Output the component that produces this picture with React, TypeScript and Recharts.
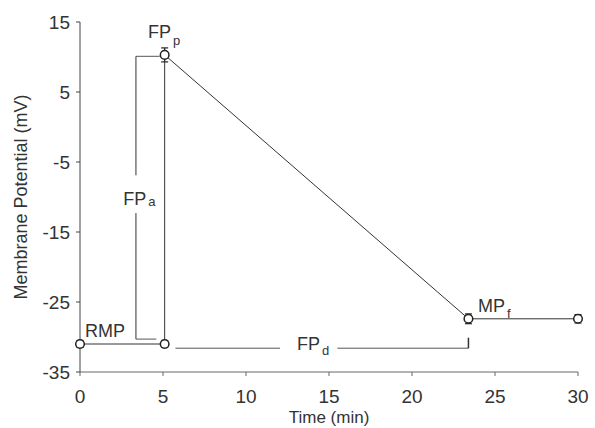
import React from 'react';
import { ComposedChart, Line, XAxis, YAxis, ErrorBar, ReferenceLine, ReferenceDot, Label } from 'recharts';

const times = [0, 5.1, 5.1, 23.4, 30];
const potentials = [-31, -31, 10.3, -27.4, -27.4];
const errors = [0.5, 0.5, 1.0, 0.7, 0.6];
const xTicks = [0, 5, 10, 15, 20, 25, 30];
const yTicks = [-35, -25, -15, -5, 5, 15];

const data = times.map((t, i) => ({ t, v: potentials[i], err: errors[i] }));

const ink = '#333';
const font = '"Liberation Sans", Arial, sans-serif';

// annotation labels: main text, subscript, left/baseline anchor in data coords
const notes = [
  { main: 'FP', sub: 'p', drop: 7, x: 4.1, y: 12.7 },
  { main: 'RMP', sub: '', drop: 0, x: 0.3, y: -30.0 },
  { main: 'FP', sub: 'a', drop: 1, x: 2.6, y: -11.1 },
  { main: 'FP', sub: 'd', drop: 5, x: 13.07, y: -31.86 },
  { main: 'MP', sub: 'f', drop: 6, x: 23.98, y: -26.43 },
];

const Note = (props: any) => {
  const { cx, cy, main, sub, drop } = props;
  return (
    <text x={cx} y={cy} textAnchor="start" fill={ink} fontSize={18} fontFamily={font}>
      <tspan>{main}</tspan>
      {sub && <tspan dx={2} dy={drop} fontSize={13} fill={ink}>{sub}</tspan>}
    </text>
  );
};

const Circle = (props: any) => {
  const { cx, cy } = props;
  return <circle cx={cx} cy={cy} r={4.3} fill="#fff" stroke="#222" strokeWidth={1.5} />;
};

export default function App() {
  return (
    <div style={{ position: 'absolute', left: 0, top: 0, background: '#fff' }}>
      <ComposedChart width={595} height={428} data={data} margin={{ top: 22, right: 17, bottom: 22, left: 40 }}>
        <XAxis
          dataKey="t"
          type="number"
          domain={[0, 30]}
          ticks={xTicks}
          stroke="#666"
          tick={{ fill: ink, fontSize: 19, fontFamily: font }}
          tickSize={4}
          tickMargin={14}
          height={34}
        >
          <Label value="Time (min)" position="insideBottom" offset={-17} fill={ink} fontSize={17} fontFamily={font} />
        </XAxis>
        <YAxis
          type="number"
          domain={[-35, 15]}
          ticks={yTicks}
          stroke="#444"
          tick={{ fill: ink, fontSize: 19, fontFamily: font }}
          tickSize={4}
          tickMargin={6}
          width={40}
        >
          <Label value="Membrane Potential (mV)" angle={-90} position="insideLeft" offset={-19} style={{ textAnchor: 'middle' }} fill={ink} fontSize={18} fontFamily={font} />
        </YAxis>

        {/* FPa bracket */}
        <ReferenceLine segment={[{ x: 3.37, y: 10.1 }, { x: 4.8, y: 10.1 }]} stroke="#555" />
        <ReferenceLine segment={[{ x: 3.37, y: 10.1 }, { x: 3.37, y: -6.9 }]} stroke="#333" />
        <ReferenceLine segment={[{ x: 3.37, y: -12.3 }, { x: 3.37, y: -30.3 }]} stroke="#333" />
        <ReferenceLine segment={[{ x: 3.37, y: -30.3 }, { x: 4.6, y: -30.3 }]} stroke="#555" />

        {/* FPd line */}
        <ReferenceLine segment={[{ x: 5.75, y: -31.6 }, { x: 12.05, y: -31.6 }]} stroke="#555" />
        <ReferenceLine segment={[{ x: 15.5, y: -31.6 }, { x: 23.4, y: -31.6 }]} stroke="#555" />
        <ReferenceLine segment={[{ x: 23.4, y: -31.6 }, { x: 23.4, y: -30.1 }]} stroke="#333" strokeWidth={1.5} />

        {notes.map((n, i) => (
          <ReferenceDot key={i} x={n.x} y={n.y} r={0} shape={(p: any) => <Note {...p} main={n.main} sub={n.sub} drop={n.drop} />} />
        ))}

        <Line dataKey="v" stroke="#333" strokeWidth={1} dot={<Circle />} activeDot={false} isAnimationActive={false}>
          <ErrorBar dataKey="err" width={3.5} stroke="#222" strokeWidth={1.2} isAnimationActive={false} />
        </Line>
      </ComposedChart>
    </div>
  );
}
